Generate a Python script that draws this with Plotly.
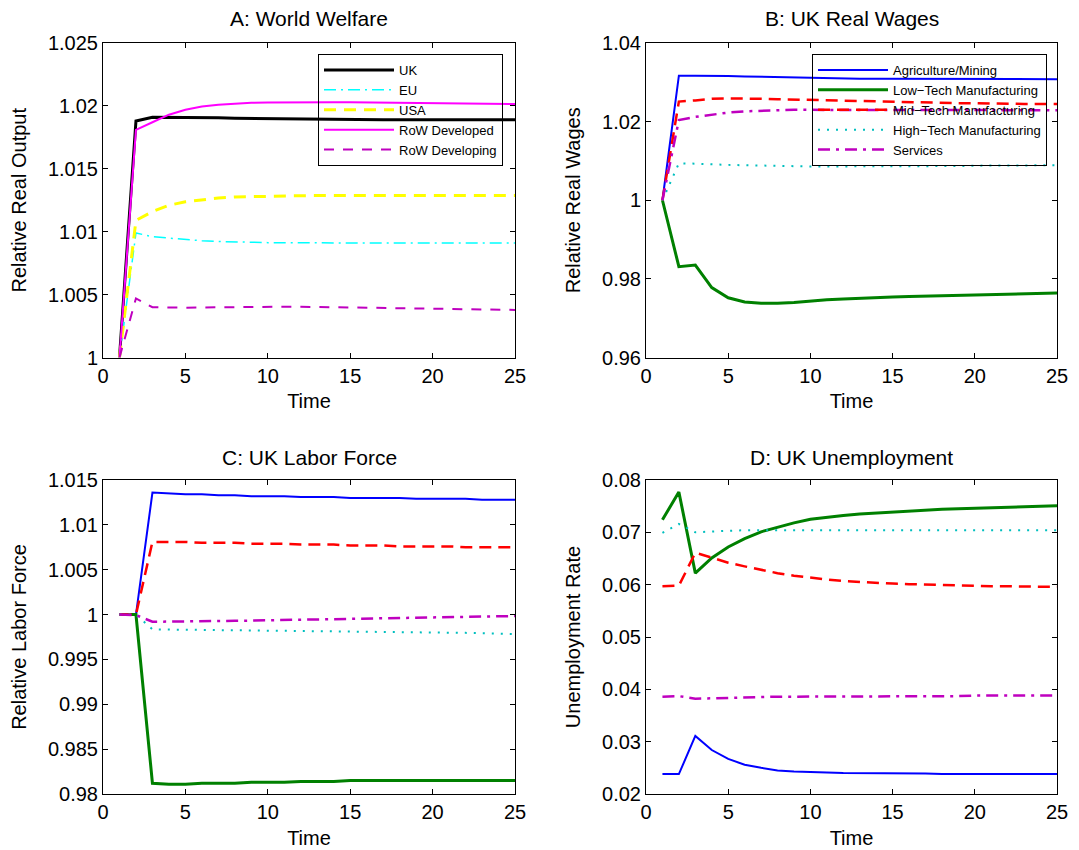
import plotly.graph_objects as go

# ---------------- data ----------------
t = list(range(1, 26))

# Panel A: World Welfare (relative real output)
uk = [1.0, 1.0188, 1.0191, 1.0191, 1.0191, 1.01908, 1.01905, 1.01902, 1.019, 1.01898, 1.01896, 1.01895, 1.01894,
      1.01893, 1.01892, 1.01891, 1.0189, 1.0189, 1.0189, 1.0189, 1.0189, 1.0189, 1.0189, 1.0189, 1.0189]
eu = [1.0, 1.0099, 1.0096, 1.0095, 1.00935, 1.00928, 1.00922, 1.00918, 1.00915, 1.00913, 1.00912, 1.00911, 1.0091,
      1.0091, 1.0091, 1.0091, 1.0091, 1.0091, 1.0091, 1.0091, 1.0091, 1.0091, 1.0091, 1.0091, 1.0091]
usa = [1.0, 1.0109, 1.0116, 1.0121, 1.01238, 1.01256, 1.01268, 1.01276, 1.0128, 1.01283, 1.01285, 1.01286, 1.01287,
       1.01288, 1.01288, 1.01288, 1.01288, 1.01288, 1.01288, 1.01288, 1.01288, 1.01288, 1.01288, 1.01288, 1.01288]
row_developed = [1.0, 1.0181, 1.0187, 1.0193, 1.0197, 1.01995, 1.0201, 1.0202, 1.02025, 1.02028, 1.0203, 1.0203,
                 1.0203, 1.0203, 1.0203, 1.02028, 1.02027, 1.02025, 1.02024, 1.02022, 1.0202, 1.02019, 1.02018,
                 1.02016, 1.02015]
row_developing = [1.0, 1.0047, 1.0040, 1.00396, 1.00396, 1.00398, 1.004, 1.00402, 1.00403, 1.00404, 1.00404,
                  1.00403, 1.00402, 1.004, 1.00398, 1.00396, 1.00394, 1.00392, 1.0039, 1.00388, 1.00386, 1.00384,
                  1.00382, 1.0038, 1.00378]

# Panel B: UK real wages
wage_agri = [1.0, 1.0317, 1.0317, 1.0317, 1.0316, 1.0315, 1.0314, 1.0313, 1.0312, 1.0311, 1.031, 1.031, 1.0309,
             1.0309, 1.0309, 1.0308, 1.0308, 1.0308, 1.0308, 1.0308, 1.0308, 1.0308, 1.0308, 1.0308, 1.0308]
wage_low = [1.0, 0.9831, 0.9835, 0.9778, 0.9752, 0.9741, 0.9738, 0.9738, 0.9740, 0.9744, 0.9747, 0.9749, 0.9751,
            0.9752, 0.9754, 0.9755, 0.9756, 0.9757, 0.9758, 0.9759, 0.9760, 0.9761, 0.9762, 0.9763, 0.9764]
wage_mid = [1.0, 1.0251, 1.0254, 1.0258, 1.0259, 1.0259, 1.0258, 1.0257, 1.0256, 1.0255, 1.0254, 1.0253, 1.0252,
            1.0251, 1.0250, 1.0249, 1.0248, 1.0248, 1.0247, 1.0247, 1.0246, 1.0246, 1.0245, 1.0245, 1.0245]
wage_high = [1.0, 1.0094, 1.0093, 1.0091, 1.009, 1.0089, 1.0088, 1.0087, 1.0087, 1.0086, 1.0086, 1.0086, 1.0086,
             1.0086, 1.0086, 1.0086, 1.0087, 1.0087, 1.0087, 1.0088, 1.0088, 1.0088, 1.0089, 1.0089, 1.0089]
wage_serv = [1.0, 1.0204, 1.0212, 1.0218, 1.0223, 1.0226, 1.0228, 1.0229, 1.023, 1.023, 1.023, 1.023, 1.023,
             1.023, 1.023, 1.023, 1.023, 1.023, 1.023, 1.023, 1.0229, 1.0229, 1.0229, 1.0229, 1.0229]

# Panel C: UK labor force
lf_agri = [1.0, 1.0, 1.0136, 1.0135, 1.0134, 1.0134, 1.0133, 1.0133, 1.0132, 1.0132, 1.0132, 1.0131, 1.0131,
           1.0131, 1.0130, 1.0130, 1.0130, 1.0130, 1.0129, 1.0129, 1.0129, 1.0129, 1.0128, 1.0128, 1.0128]
lf_low = [1.0, 1.0, 0.9812, 0.9811, 0.9811, 0.9812, 0.9812, 0.9812, 0.9813, 0.9813, 0.9813, 0.9814, 0.9814,
          0.9814, 0.9815, 0.9815, 0.9815, 0.9815, 0.9815, 0.9815, 0.9815, 0.9815, 0.9815, 0.9815, 0.9815]
lf_mid = [1.0, 1.0, 1.0081, 1.0081, 1.0081, 1.0080, 1.0080, 1.0080, 1.0079, 1.0079, 1.0079, 1.0078, 1.0078,
          1.0078, 1.0077, 1.0077, 1.0077, 1.0076, 1.0076, 1.0076, 1.0076, 1.0075, 1.0075, 1.0075, 1.0075]
lf_high = [1.0, 1.0, 0.99835, 0.99833, 0.9983, 0.9983, 0.9983, 0.9983, 0.99828, 0.99828, 0.99826, 0.99824,
           0.99822, 0.9982, 0.99818, 0.99815, 0.99812, 0.9981, 0.99806, 0.99802, 0.998, 0.99796, 0.99792,
           0.99788, 0.99783]
lf_serv = [1.0, 0.99995, 0.9992, 0.9992, 0.9992, 0.99925, 0.99928, 0.9993, 0.99933, 0.99936, 0.9994, 0.99942,
           0.99945, 0.99948, 0.9995, 0.99953, 0.99956, 0.9996, 0.99962, 0.99965, 0.99968, 0.99972, 0.99975,
           0.9998, 0.99984]

# Panel D: UK unemployment rate
un_agri = [0.0238, 0.0238, 0.0311, 0.0284, 0.0267, 0.0256, 0.0250, 0.0245, 0.0243, 0.02415, 0.0241, 0.0240,
           0.0240, 0.0239, 0.0239, 0.0239, 0.0239, 0.0238, 0.0238, 0.0238, 0.0238, 0.0238, 0.0238, 0.0238, 0.0238]
un_low = [0.0724, 0.0777, 0.0622, 0.0651, 0.0672, 0.0688, 0.0701, 0.0710, 0.0718, 0.0725, 0.0729, 0.0732,
          0.0735, 0.0737, 0.0739, 0.0741, 0.0743, 0.0744, 0.0745, 0.0746, 0.0747, 0.0748, 0.0749, 0.0750, 0.0751]
un_mid = [0.0597, 0.0598, 0.0661, 0.0651, 0.0642, 0.0635, 0.0628, 0.0622, 0.0617, 0.0613, 0.0610, 0.0607,
          0.0605, 0.0603, 0.0602, 0.0601, 0.0600, 0.0599, 0.0598, 0.0598, 0.0597, 0.0597, 0.0596, 0.0596, 0.0596]
un_high = [0.0699, 0.0716, 0.0700, 0.0702, 0.0703, 0.0704, 0.0704, 0.0705, 0.0705, 0.0705, 0.0705, 0.0705,
           0.0705, 0.0705, 0.0705, 0.0705, 0.0705, 0.0705, 0.0705, 0.0705, 0.0704, 0.0704, 0.0704, 0.0704, 0.0704]
un_serv = [0.0386, 0.0387, 0.0382, 0.0383, 0.0384, 0.0385, 0.0385, 0.0386, 0.0386, 0.0386, 0.0387, 0.0387,
           0.0387, 0.0387, 0.0387, 0.0387, 0.0387, 0.0387, 0.0387, 0.0388, 0.0388, 0.0388, 0.0388, 0.0388, 0.0388]

region_names = ["UK", "EU", "USA", "RoW Developed", "RoW Developing"]
sector_names = ["Agriculture/Mining", "Low\u2212Tech Manufacturing", "Mid\u2212Tech Manufacturing",
                "High\u2212Tech Manufacturing", "Services"]

titles = ["A: World Welfare", "B: UK Real Wages", "C: UK Labor Force", "D: UK Unemployment"]
ylabels = ["Relative Real Output", "Relative Real Wages", "Relative Labor Force", "Unemployment Rate"]

x_ticks = [0, 5, 10, 15, 20, 25]
a_ticks = [1.0, 1.005, 1.01, 1.015, 1.02, 1.025]
a_text = ["1", "1.005", "1.01", "1.015", "1.02", "1.025"]
b_ticks = [0.96, 0.98, 1.0, 1.02, 1.04]
b_text = ["0.96", "0.98", "1", "1.02", "1.04"]
c_ticks = [0.98, 0.985, 0.99, 0.995, 1.0, 1.005, 1.01, 1.015]
c_text = ["0.98", "0.985", "0.99", "0.995", "1", "1.005", "1.01", "1.015"]
d_ticks = [0.02, 0.03, 0.04, 0.05, 0.06, 0.07, 0.08]
d_text = ["0.02", "0.03", "0.04", "0.05", "0.06", "0.07", "0.08"]

# ---------------- styles ----------------
region_styles = [
    dict(color="#000000", width=3, dash="solid"),
    dict(color="#00FFFF", width=1.5, dash="12px,5px,2px,5px"),
    dict(color="#FFFF00", width=3, dash="12px,8px"),
    dict(color="#FF00FF", width=2, dash="solid"),
    dict(color="#BF00BF", width=2, dash="10px,9px"),
]
sector_styles = [
    dict(color="#0000FF", width=2, dash="solid"),
    dict(color="#008000", width=3, dash="solid"),
    dict(color="#FF0000", width=2.5, dash="12px,7px"),
    dict(color="#00BFBF", width=2, dash="2px,7px"),
    dict(color="#BF00BF", width=2.5, dash="12px,6px,3px,6px"),
]

# The page body has an 8px margin, so the figure is drawn 8px in from the window corner.
OFF = 8
W, H = 1079 - OFF, 850 - OFF


def px_x(v):
    return (v - OFF) / W


def px_y(v):
    return 1 - (v - OFF) / H


xdom_left = [px_x(103), px_x(515)]
xdom_right = [px_x(646), px_x(1057)]
ydom_top = [px_y(357.5), px_y(43)]
ydom_bot = [px_y(794), px_y(480)]

FONT = "Liberation Sans, Arial, sans-serif"
fig = go.Figure()

region_series = [uk, eu, usa, row_developed, row_developing]
for name, ys, st in zip(region_names, region_series, region_styles):
    fig.add_trace(go.Scatter(x=t, y=ys, name=name, mode="lines", line=st,
                             xaxis="x", yaxis="y", legend="legend"))

panels = [
    ([wage_agri, wage_low, wage_mid, wage_high, wage_serv], "x2", "y2", True),
    ([lf_agri, lf_low, lf_mid, lf_high, lf_serv], "x3", "y3", False),
    ([un_agri, un_low, un_mid, un_high, un_serv], "x4", "y4", False),
]
for series, xa, ya, show in panels:
    for name, ys, st in zip(sector_names, series, sector_styles):
        fig.add_trace(go.Scatter(x=t, y=ys, name=name, mode="lines", line=st,
                                 xaxis=xa, yaxis=ya, showlegend=show, legend="legend2"))

TICK = 20


def xaxis(domain, anchor):
    return dict(domain=domain, anchor=anchor, range=[0, 25], tickvals=x_ticks,
                showline=True, linecolor="black", linewidth=1, mirror="allticks",
                ticks="inside", ticklen=5, tickcolor="black", showgrid=False, zeroline=False,
                tickfont=dict(size=TICK, color="black"), automargin=False,
                title=dict(text="Time", font=dict(size=TICK, color="black"), standoff=8))


def yaxis(domain, anchor, rng, tv, tt, label):
    return dict(domain=domain, anchor=anchor, range=rng, tickvals=tv, ticktext=tt,
                showline=True, linecolor="black", linewidth=1, mirror="allticks",
                ticks="inside", ticklen=5, tickcolor="black", showgrid=False, zeroline=False,
                tickfont=dict(size=TICK, color="black"), automargin=False,
                title=dict(text=label, font=dict(size=TICK, color="black"), standoff=16))


legend_common = dict(bgcolor="rgba(0,0,0,0)", bordercolor="black", borderwidth=1,
                     font=dict(size=13, color="black", family=FONT),
                     xanchor="left", yanchor="top", tracegroupgap=0, itemwidth=70)

fig.update_layout(
    width=W, height=H,
    margin=dict(l=0, r=0, t=0, b=0),
    paper_bgcolor="white", plot_bgcolor="white",
    font=dict(family=FONT, color="black"),
    xaxis=xaxis(xdom_left, "y"),
    yaxis=yaxis(ydom_top, "x", [1.0, 1.025], a_ticks, a_text, ylabels[0]),
    xaxis2=xaxis(xdom_right, "y2"),
    yaxis2=yaxis(ydom_top, "x2", [0.96, 1.04], b_ticks, b_text, ylabels[1]),
    xaxis3=xaxis(xdom_left, "y3"),
    yaxis3=yaxis(ydom_bot, "x3", [0.98, 1.015], c_ticks, c_text, ylabels[2]),
    xaxis4=xaxis(xdom_right, "y4"),
    yaxis4=yaxis(ydom_bot, "x4", [0.02, 0.08], d_ticks, d_text, ylabels[3]),
    legend=dict(x=px_x(318), y=px_y(54), **legend_common),
    legend2=dict(x=px_x(812), y=px_y(54), **legend_common),
    showlegend=True,
)

title_pos = [
    (sum(xdom_left) / 2, px_y(18)),
    (sum(xdom_right) / 2, px_y(18)),
    (sum(xdom_left) / 2, px_y(457)),
    (sum(xdom_right) / 2, px_y(457)),
]
for txt, (px, py) in zip(titles, title_pos):
    fig.add_annotation(text=txt, x=px, y=py, xref="paper", yref="paper", showarrow=False,
                       xanchor="center", yanchor="middle", font=dict(size=21, color="black", family=FONT))

fig.write_html("out.html")
